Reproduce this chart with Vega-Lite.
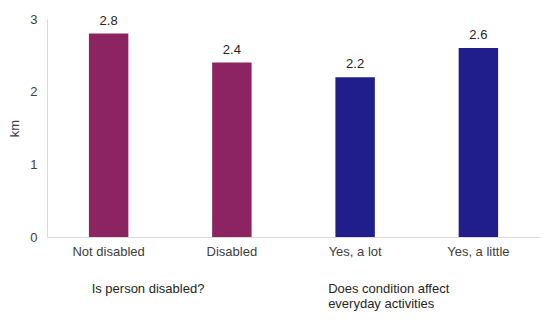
{
  "$schema": "https://vega.github.io/schema/vega-lite/v6.json",
  "width": 493,
  "height": 218,
  "autosize": {"type": "none"},
  "padding": {"left": 47, "top": 19, "right": 3, "bottom": 87},
  "background": "white",
  "config": {
    "view": {"stroke": null},
    "font": "Liberation Sans",
    "axis": {"labelFont": "Liberation Sans", "titleFont": "Liberation Sans", "labelColor": "#404040", "titleColor": "#404040"}
  },
  "data": {
    "values": [
      {"category": "Not disabled", "km": 2.8, "group": "Is person disabled?"},
      {"category": "Disabled", "km": 2.4, "group": "Is person disabled?"},
      {"category": "Yes, a lot", "km": 2.2, "group": "Does condition affect\neveryday activities"},
      {"category": "Yes, a little", "km": 2.6, "group": "Does condition affect\neveryday activities"}
    ]
  },
  "encoding": {
    "x": {
      "field": "category",
      "type": "nominal",
      "sort": null,
      "scale": {"paddingInner": 0.68, "paddingOuter": 0.34},
      "axis": {"title": null, "labelAngle": 0, "ticks": false, "labelPadding": 8, "labelFontSize": 13, "domainColor": "#d9d9d9", "labelColor": "#404040"}
    }
  },
  "layer": [
    {
      "mark": {"type": "bar"},
      "encoding": {
        "y": {
          "field": "km",
          "type": "quantitative",
          "scale": {"domain": [0, 3]},
          "axis": {"title": "km", "values": [0, 1, 2, 3], "format": "d", "grid": false, "ticks": false, "labelPadding": 10, "labelFontSize": 13, "titleFontSize": 13, "titleFontWeight": "normal", "titlePadding": 8, "domainColor": "#d9d9d9"}
        },
        "color": {
          "field": "group",
          "type": "nominal",
          "sort": null,
          "scale": {"range": ["#8c2461", "#201e8c"]},
          "legend": null
        }
      }
    },
    {
      "mark": {"type": "text", "baseline": "bottom", "dy": -6, "fontSize": 13, "color": "#262626"},
      "encoding": {
        "y": {"field": "km", "type": "quantitative"},
        "text": {"field": "km", "type": "quantitative", "format": ".1f"}
      }
    },
    {
      "transform": [{"filter": "datum.category === 'Not disabled'"}],
      "mark": {"type": "text", "align": "left", "baseline": "top", "dx": -17, "fontSize": 13, "color": "#262626", "lineBreak": "\n"},
      "encoding": {
        "y": {"datum": -0.63, "type": "quantitative"},
        "text": {"field": "group"}
      }
    },
    {
      "transform": [{"filter": "datum.category === 'Yes, a lot'"}],
      "mark": {"type": "text", "align": "left", "baseline": "top", "dx": -27, "fontSize": 13, "color": "#262626", "lineBreak": "\n"},
      "encoding": {
        "y": {"datum": -0.63, "type": "quantitative"},
        "text": {"field": "group"}
      }
    }
  ]
}
